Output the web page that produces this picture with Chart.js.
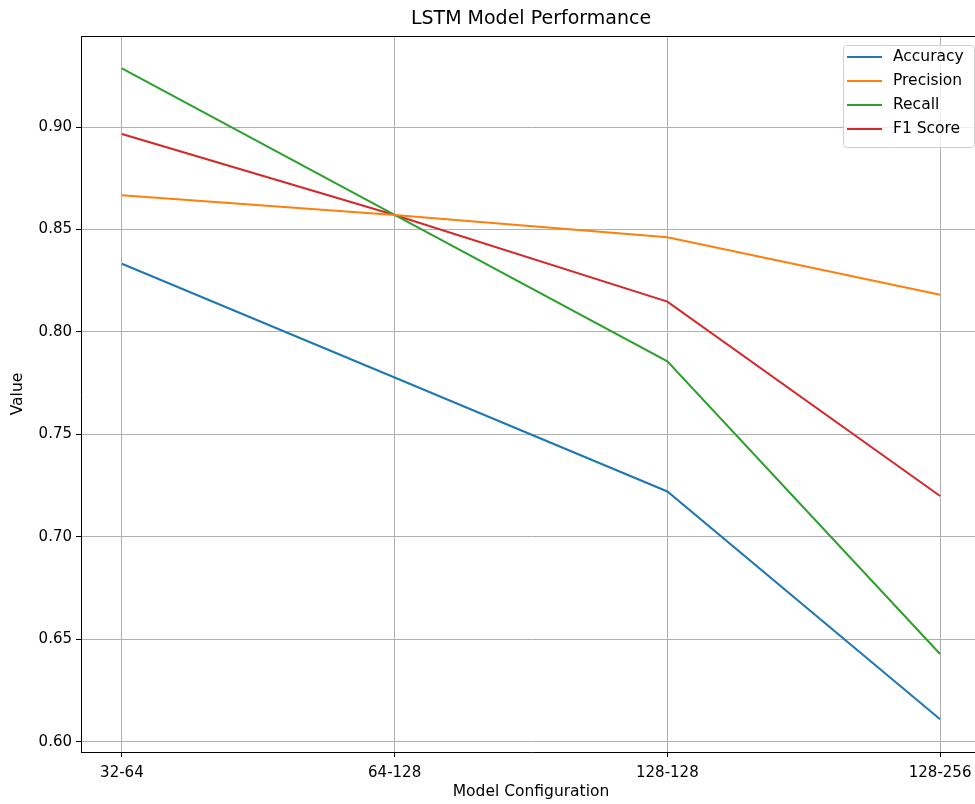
<!DOCTYPE html>
<html>
<head>
<meta charset="utf-8">
<script src="https://cdn.jsdelivr.net/npm/chart.js@4/dist/chart.umd.min.js"></script>
<style>
  html, body { margin: 0; padding: 0; background: #fff; overflow: hidden; width: 975px; height: 804px; }
  canvas { display: block; }
</style>
</head>
<body>
<canvas id="chart" width="990" height="804"></canvas>
<script>
const categories = ['32-64', '64-128', '128-128', '128-256'];
const accuracy = [0.8333, 0.7778, 0.7222, 0.6111];
const precision = [0.8667, 0.8571, 0.8462, 0.8182];
const recall = [0.9286, 0.8571, 0.7857, 0.6429];
const f1Score = [0.8966, 0.8571, 0.8148, 0.7200];
const yTicks = [0.60, 0.65, 0.70, 0.75, 0.80, 0.85, 0.90];

const FONT = 'DejaVu Sans';

const series = [
    { label: 'Accuracy', values: accuracy, color: '#1f77b4' },
    { label: 'Precision', values: precision, color: '#ff7f0e' },
    { label: 'Recall', values: recall, color: '#2ca02c' },
    { label: 'F1 Score', values: f1Score, color: '#d62728' },
];

// spines on top/right, title and the in-plot legend
const decorations = {
    id: 'decorations',
    afterDraw(chart) {
        const { ctx, chartArea: a } = chart;
        ctx.save();
        ctx.strokeStyle = '#000';
        ctx.lineWidth = 1;
        ctx.beginPath();
        ctx.moveTo(a.left, a.top + 0.5);
        ctx.lineTo(a.right, a.top + 0.5);
        ctx.moveTo(a.right - 0.5, a.top);
        ctx.lineTo(a.right - 0.5, a.bottom);
        ctx.stroke();

        ctx.fillStyle = '#000';
        ctx.font = `19px "${FONT}"`;
        ctx.textAlign = 'center';
        ctx.textBaseline = 'middle';
        ctx.fillText('LSTM Model Performance', (a.left + a.right) / 2, 19);

        // legend
        const bx = 843, by = 45, bw = 131, bh = 102, r = 3;
        ctx.fillStyle = 'rgba(255,255,255,0.8)';
        ctx.strokeStyle = '#d0d0d0';
        ctx.beginPath();
        ctx.roundRect(bx + 0.5, by + 0.5, bw, bh, r);
        ctx.fill();
        ctx.stroke();
        ctx.font = `15.5px "${FONT}"`;
        ctx.textAlign = 'left';
        series.forEach((s, i) => {
            const y = 57 + i * 24;
            ctx.strokeStyle = s.color;
            ctx.lineWidth = 2;
            ctx.beginPath();
            ctx.moveTo(847, y);
            ctx.lineTo(882, y);
            ctx.stroke();
            ctx.fillStyle = '#000';
            ctx.fillText(s.label, 893, y);
        });
        ctx.restore();
    }
};

new Chart(document.getElementById('chart'), {
    type: 'line',
    data: {
        datasets: series.map(s => ({
            label: s.label,
            data: s.values.map((v, i) => ({ x: i, y: v })),
            borderColor: s.color,
            backgroundColor: s.color,
            borderWidth: 2,
            pointRadius: 0,
            tension: 0,
            fill: false,
        })),
    },
    options: {
        responsive: false,
        animation: false,
        layout: { padding: { top: 36, right: 9, left: 0, bottom: 0 } },
        plugins: {
            legend: { display: false },
            title: { display: false },
            tooltip: { enabled: false },
        },
        scales: {
            x: {
                type: 'linear',
                min: -0.15,
                max: 3.15,
                afterBuildTicks(scale) {
                    scale.ticks = categories.map((c, i) => ({ value: i }));
                },
                afterFit(scale) { scale.height = 52; },
                ticks: {
                    color: '#000',
                    font: { family: FONT, size: 15 },
                    padding: 7,
                    maxRotation: 0,
                    callback: (v) => categories[v],
                },
                grid: { color: '#b0b0b0', lineWidth: 1, tickColor: '#000', tickLength: 5 },
                border: { display: true, color: '#000', width: 1 },
                title: {
                    display: true,
                    text: 'Model Configuration',
                    color: '#000',
                    font: { family: FONT, size: 15.5 },
                    padding: { top: 0, bottom: 3 },
                },
            },
            y: {
                min: 0.5951,
                max: 0.9444,
                afterBuildTicks(scale) {
                    scale.ticks = yTicks.map(v => ({ value: v }));
                },
                afterFit(scale) { scale.width = 81; },
                ticks: {
                    color: '#000',
                    font: { family: FONT, size: 15 },
                    padding: 4,
                    callback: (v) => v.toFixed(2),
                },
                grid: { color: '#b0b0b0', lineWidth: 1, tickColor: '#000', tickLength: 5 },
                border: { display: true, color: '#000', width: 1 },
                title: {
                    display: true,
                    text: 'Value',
                    color: '#000',
                    font: { family: FONT, size: 15.5 },
                    padding: { top: 9, bottom: 0 },
                },
            },
        },
    },
    plugins: [decorations],
});
</script>
</body>
</html>
